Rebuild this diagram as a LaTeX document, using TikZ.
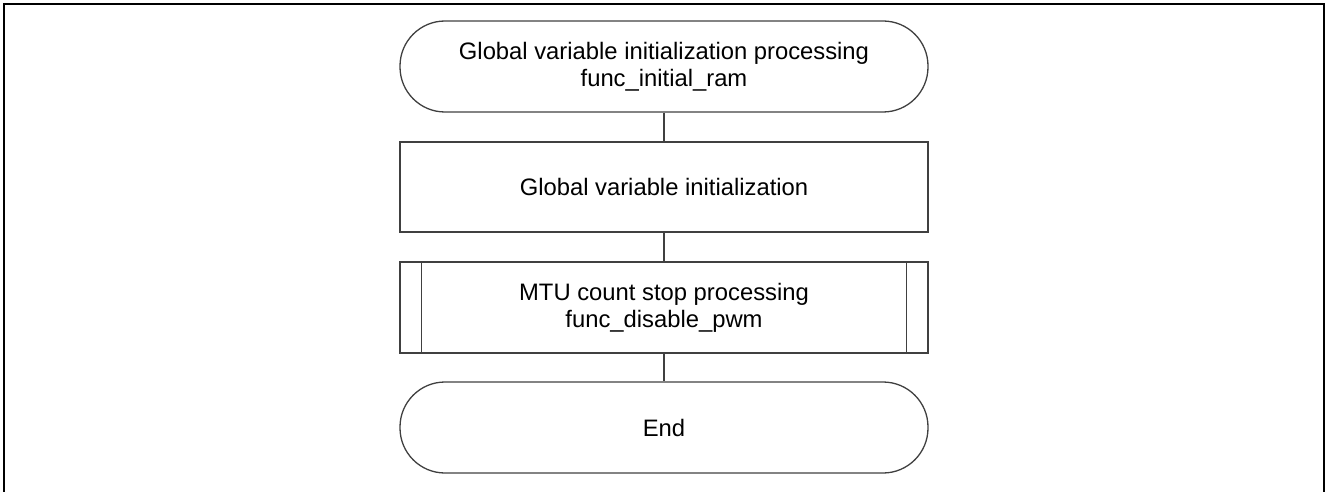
\documentclass[tikz,border=0pt]{standalone}
\usepackage{fontspec}
\setmainfont{Liberation Sans}
\begin{document}
\begin{tikzpicture}[x=1pt, y=-1pt, every node/.style={font=\fontsize{23.8}{27}\selectfont},
  term/.style={draw=black!75,line width=1.3pt,rounded corners=45pt,minimum width=528pt,minimum height=91pt,inner sep=0pt,align=center},
  proc/.style={draw=black!75,line width=1.3pt,minimum width=528pt,minimum height=90pt,inner sep=0pt,align=center},
  link/.style={draw=black!75,line width=1.3pt}]
\useasboundingbox (0,0) rectangle (1327,492);
\draw[line width=2pt] (4,492) -- (4,4) -- (1324,4) -- (1324,492);
\node[term] (start) at (664,66.5) {Global variable initialization processing\\func\_initial\_ram};
\node[proc] (init) at (664,187) {Global variable initialization};
\node[proc,minimum height=91pt] (stop) at (664,307.5) {MTU count stop processing\\func\_disable\_pwm};
\node[term] (end) at (664,427.5) {End};
\draw[link] ([xshift=22pt]stop.north west) -- ([xshift=22pt]stop.south west);
\draw[link] ([xshift=-22pt]stop.north east) -- ([xshift=-22pt]stop.south east);
\draw[link] (start) -- (init);
\draw[link] (init) -- (stop);
\draw[link] (stop) -- (end);
\end{tikzpicture}
\end{document}
